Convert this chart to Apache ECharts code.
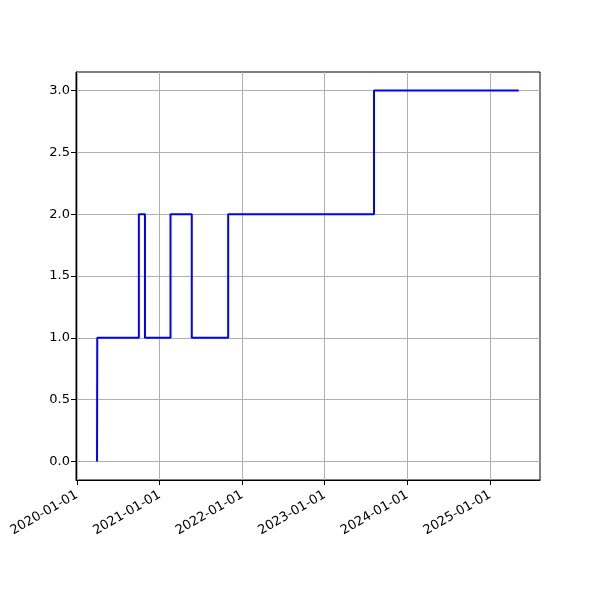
<!DOCTYPE html>
<html>
<head>
<meta charset="utf-8">
<script src="https://cdn.jsdelivr.net/npm/echarts@6/dist/echarts.min.js"></script>
<style>
html,body{margin:0;padding:0;background:#fff;}
#chart{width:600px;height:600px;}
</style>
</head>
<body>
<div id="chart"></div>
<script>
const dates = ['2020-03-30','2020-03-31','2020-10-01','2020-10-28','2021-02-18','2021-05-23','2021-10-31','2023-08-07','2025-05-08'];
const values = [0,1,2,1,2,1,2,3,3];
const xTickLabels = ['2020-01-01','2021-01-01','2022-01-01','2023-01-01','2024-01-01','2025-01-01'];
const yTickValues = [0,0.5,1,1.5,2,2.5,3];

const ts = s => { const p = s.split('-').map(Number); return Date.UTC(p[0], p[1]-1, p[2]); };
const data = dates.map((d,i) => [ts(d), values[i]]);
const xTicks = xTickLabels.map(ts);
const pad = n => (n<10?'0':'')+n;
const fmt = v => { const d = new Date(v); return d.getUTCFullYear()+'-'+pad(d.getUTCMonth()+1)+'-'+pad(d.getUTCDate()); };

const chart = echarts.init(document.getElementById('chart'), null, {renderer:'canvas'});
chart.setOption({
  animation:false,
  grid:{left:76,top:72,width:464,height:408,show:true,borderColor:'#000',borderWidth:1,backgroundColor:'transparent',containLabel:false},
  xAxis:{
    type:'value',
    min:ts('2019-12-28'),
    max:ts('2025-08-10'),
    axisLine:{show:true,onZero:false,lineStyle:{color:'#000',width:1}},
    axisTick:{show:true,length:5,customValues:xTicks,lineStyle:{color:'#000'}},
    axisLabel:{customValues:xTicks,formatter:v=>fmt(v),rotate:30,margin:14,color:'#000',fontFamily:'DejaVu Sans',fontSize:13,hideOverlap:false},
    splitLine:{show:true,lineStyle:{color:'#b0b0b0',width:1}}
  },
  yAxis:{
    type:'value',
    min:-0.15,
    max:3.15,
    axisLine:{show:true,onZero:false,lineStyle:{color:'#000',width:1}},
    axisTick:{show:true,length:5,customValues:yTickValues,lineStyle:{color:'#000'}},
    axisLabel:{customValues:yTickValues,formatter:v=>v.toFixed(1),margin:6,color:'#000',fontFamily:'DejaVu Sans',fontSize:13},
    splitLine:{show:true,lineStyle:{color:'#b0b0b0',width:1}}
  },
  series:[{
    type:'line',
    step:'end',
    data:data,
    showSymbol:false,
    symbol:'none',
    lineStyle:{color:'#0000ff',width:2},
    itemStyle:{color:'#0000ff'}
  }]
});
</script>
</body>
</html>
